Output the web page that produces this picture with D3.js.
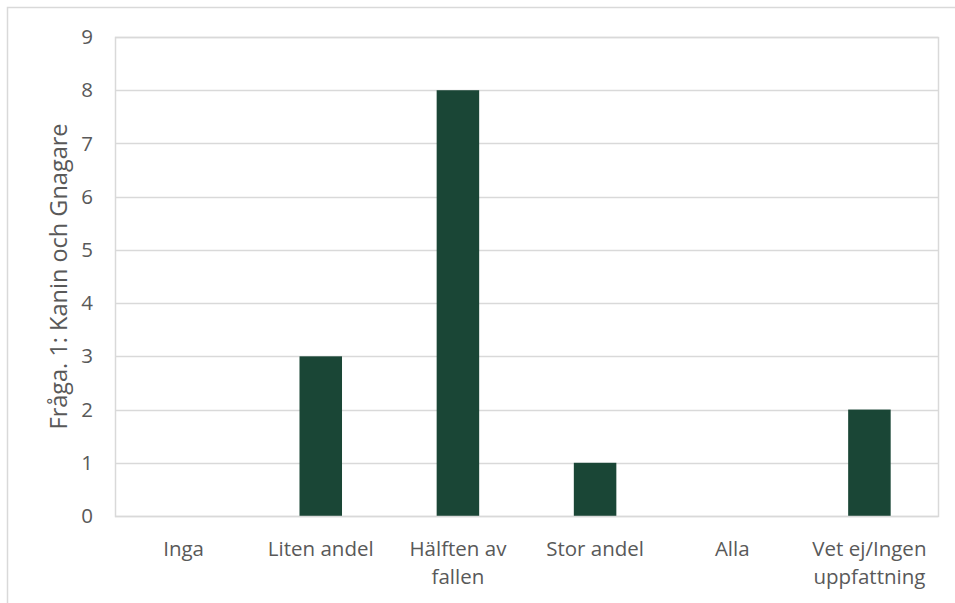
<!DOCTYPE html>
<html>
<head>
<meta charset="utf-8">
<script src="https://cdn.jsdelivr.net/npm/d3@7"></script>
<style>
  html, body { margin: 0; padding: 0; background: #fff; }
  svg { display: block; }
  text { font-family: "Open Sans", "Noto Sans", sans-serif; fill: #595959; }
</style>
</head>
<body>
<svg id="chart" width="955" height="603"></svg>
<script>
// Svar per kategori
const categories = ["Inga", "Liten andel", "Hälften av fallen", "Stor andel", "Alla", "Vet ej/Ingen uppfattning"];
const categoryLines = [["Inga"], ["Liten andel"], ["Hälften av", "fallen"], ["Stor andel"], ["Alla"], ["Vet ej/Ingen", "uppfattning"]];
const values = [0, 3, 8, 1, 0, 2];
const yTicks = [0, 1, 2, 3, 4, 5, 6, 7, 8, 9];
const yTitle = "Fråga. 1: Kanin och Gnagare";

const svg = d3.select("#chart");
const W = 955, H = 603;
const m = { left: 115, right: 17, top: 37, bottom: 87 };
const pw = W - m.left - m.right, ph = H - m.top - m.bottom;

// Yttre ram
svg.append("rect")
  .attr("x", 7.5).attr("y", 7.5)
  .attr("width", W + 10).attr("height", H + 10)
  .attr("fill", "none").attr("stroke", "#d9d9d9").attr("stroke-width", 1.5);

const g = svg.append("g").attr("transform", `translate(${m.left},${m.top})`);

const x = d3.scaleBand().domain(categories).range([0, pw]).paddingInner(0.69).paddingOuter(0.345);
const xc = d3.scaleBand().domain(categories).range([0, pw]);
const y = d3.scaleLinear().domain([0, 9]).range([ph, 0]);

// Rutnät
g.append("g").selectAll("line").data(yTicks).join("line")
  .attr("x1", 0).attr("x2", pw)
  .attr("y1", d => Math.round(y(d)) + 0.5).attr("y2", d => Math.round(y(d)) + 0.5)
  .attr("stroke", "#d9d9d9").attr("stroke-width", 1.5);

// Staplar
g.append("g").selectAll("rect").data(values).join("rect")
  .attr("x", (d, i) => x(categories[i]))
  .attr("width", x.bandwidth())
  .attr("y", d => y(d))
  .attr("height", d => ph - y(d))
  .attr("fill", "#1a4636");

// Ram runt diagramytan
g.append("rect")
  .attr("x", 0.5).attr("y", 0.5).attr("width", pw).attr("height", ph)
  .attr("fill", "none").attr("stroke", "#d9d9d9").attr("stroke-width", 1.5);

// Y-axel
const yAxis = d3.axisLeft(y).tickValues(yTicks).tickSize(0).tickPadding(22);
const ya = g.append("g").call(yAxis);
ya.select(".domain").remove();
ya.selectAll("text").style("font-size", "20.5px").attr("fill", "#595959")
  .style("font-family", "'Open Sans', sans-serif");

// X-axel etiketter
const xl = g.append("g").selectAll("text").data(categoryLines).join("text")
  .attr("text-anchor", "middle")
  .attr("transform", (d, i) => `translate(${xc(categories[i]) + xc.bandwidth() / 2},${ph + 40})`)
  .style("font-size", "20.5px");
xl.selectAll("tspan").data(d => d).join("tspan")
  .attr("x", 0).attr("dy", (d, i) => i === 0 ? 0 : 28)
  .text(d => d);

// Y-axeltitel
svg.append("text")
  .attr("transform", `translate(${67},${m.top + ph / 2}) rotate(-90)`)
  .attr("text-anchor", "middle")
  .style("font-size", "23.5px")
  .text(yTitle);
</script>
</body>
</html>
